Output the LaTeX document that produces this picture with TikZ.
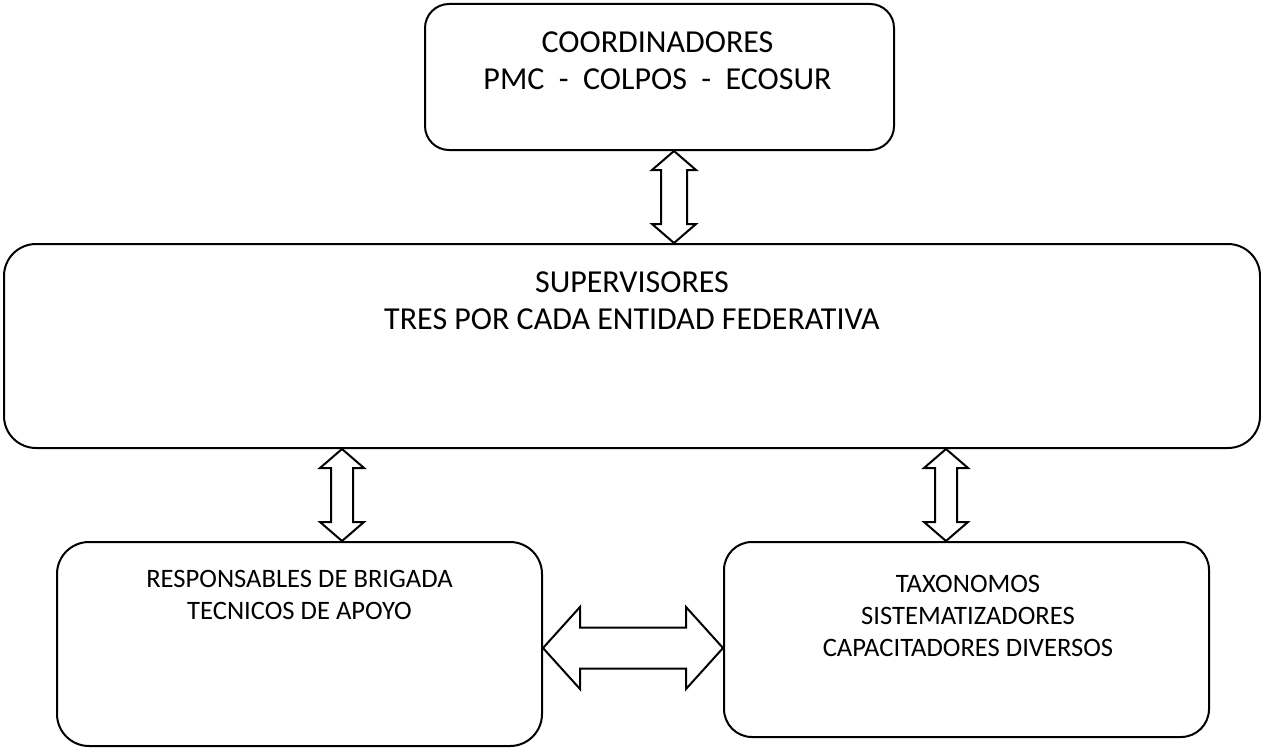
\documentclass[tikz,border=0pt]{standalone}
\usepackage{fontspec}
\setmainfont{Carlito}
\usetikzlibrary{calc}

\tikzset{
    orgbox/.style={draw, line width=1pt, inner sep=0pt},
    bigtext/.style={align=center, inner sep=0pt, anchor=north, font=\fontsize{16}{18.5}\selectfont},
    smalltext/.style={align=center, inner sep=0pt, anchor=north, font=\fontsize{13.3}{16}\selectfont},
    blockarrow/.style={draw, line width=1pt, fill=white, line join=miter}
}

% double block arrow, top tip to bottom tip, shaft half width
\newcommand{\vbiarrow}[3]{%
    \draw[blockarrow] let \p1=(#1), \p2=(#2) in
        (\x1,\y1) -- (\x1-11pt,\y1-9.5pt) -- (\x1-#3,\y1-9.5pt)
        -- (\x1-#3,\y2+9.5pt) -- (\x1-11pt,\y2+9.5pt) -- (\x1,\y2)
        -- (\x1+11pt,\y2+9.5pt) -- (\x1+#3,\y2+9.5pt)
        -- (\x1+#3,\y1-9.5pt) -- (\x1+11pt,\y1-9.5pt) -- cycle;}

\begin{document}
\begin{tikzpicture}[x=0.5pt, y=-0.5pt]
    \useasboundingbox (0,0) rectangle (1261,749);

    \node[orgbox, minimum width=234.5pt, minimum height=73pt, rounded corners=12pt] (coord) at (659.5, 77) {};
    \node[orgbox, minimum width=628pt, minimum height=102pt, rounded corners=16pt] (sup) at (632, 346) {};
    \node[orgbox, minimum width=242.5pt, minimum height=102pt, rounded corners=16pt] (resp) at (299.5, 644) {};
    \node[orgbox, minimum width=242.5pt, minimum height=97.5pt, rounded corners=14pt] (taxo) at (966.5, 639.5) {};

    \node[bigtext] (coordtxt) at ([xshift=-1pt, yshift=-14.2pt]coord.north) {COORDINADORES\\PMC\ \ -\ \ COLPOS\ \ -\ \ ECOSUR};
    \node[bigtext] (suptxt) at ([yshift=-14.2pt]sup.north) {SUPERVISORES\\TRES POR CADA ENTIDAD FEDERATIVA};
    \node[smalltext] (resptxt) at ([yshift=-14.4pt]resp.north) {RESPONSABLES DE BRIGADA\\TECNICOS DE APOYO};
    \node[smalltext] (taxotxt) at ([xshift=0.75pt, yshift=-16.9pt]taxo.north) {TAXONOMOS\\SISTEMATIZADORES\\CAPACITADORES DIVERSOS};

    \coordinate (c1) at ([xshift=7.25pt]coord.south);
    \coordinate (l1) at ([xshift=21.25pt]resp.north);
    \coordinate (r1) at ([xshift=-10.25pt]taxo.north);
    \coordinate (h1) at ([yshift=-2pt]resp.east);

    \vbiarrow{c1}{c1 |- sup.north}{6.5pt}
    \vbiarrow{l1 |- sup.south}{l1}{5.5pt}
    \vbiarrow{r1 |- sup.south}{r1}{5.5pt}

    % horizontal one
    \draw[blockarrow] let \p1=(h1), \p2=(h1 -| taxo.west) in
        (\x1,\y1) -- (\x1+18.5pt,\y1+20.5pt) -- (\x1+18.5pt,\y1+10.25pt)
        -- (\x2-18.5pt,\y1+10.25pt) -- (\x2-18.5pt,\y1+20.5pt) -- (\x2,\y1)
        -- (\x2-18.5pt,\y1-20.5pt) -- (\x2-18.5pt,\y1-10.25pt)
        -- (\x1+18.5pt,\y1-10.25pt) -- (\x1+18.5pt,\y1-20.5pt) -- cycle;
\end{tikzpicture}
\end{document}
